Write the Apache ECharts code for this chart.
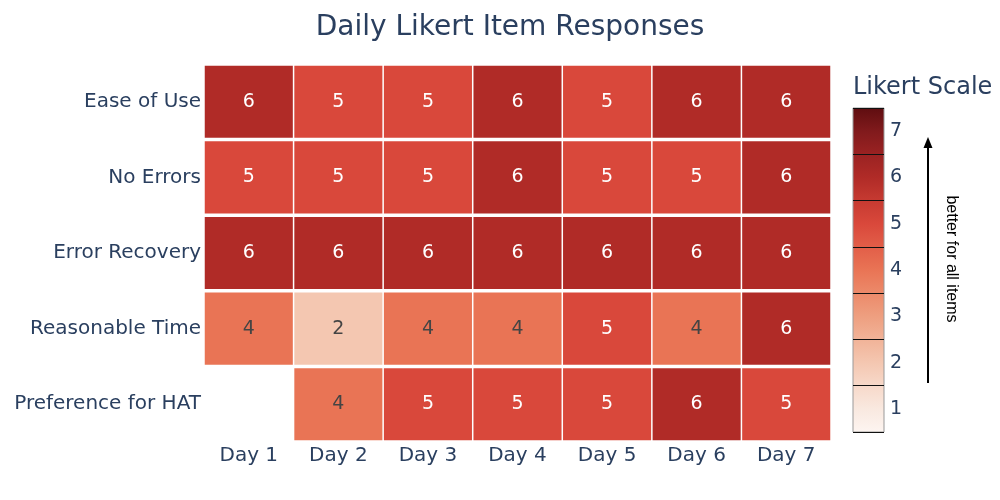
<!DOCTYPE html>
<html>
<head>
<meta charset="utf-8">
<script src="https://cdn.jsdelivr.net/npm/echarts@6/dist/echarts.min.js"></script>
<style>html,body{margin:0;padding:0;background:#fff;}#c{width:1000px;height:500px;}</style>
</head>
<body>
<div id="c"></div>
<script>
const days = ['Day 1', 'Day 2', 'Day 3', 'Day 4', 'Day 5', 'Day 6', 'Day 7'];
const items = ['Ease of Use', 'No Errors', 'Error Recovery', 'Reasonable Time', 'Preference for HAT'];
const easeOfUse      = [6, 5, 5, 6, 5, 6, 6];
const noErrors       = [5, 5, 5, 6, 5, 5, 6];
const errorRecovery  = [6, 6, 6, 6, 6, 6, 6];
const reasonableTime = [4, 2, 4, 4, 5, 4, 6];
const preferenceHAT  = [null, 4, 5, 5, 5, 6, 5];
const rows = [easeOfUse, noErrors, errorRecovery, reasonableTime, preferenceHAT];

const scaleMin = 0.5, scaleMax = 7.5;
const colorbarTicks = [1, 2, 3, 4, 5, 6, 7];
// colours at 0.5, 1.0, 1.5 ... 7.5
const scaleColors = ['#fdf5f1', '#f9e9e0', '#f7d9ca', '#f4c7b1', '#f1b398', '#ee9f80', '#ec8a6a',
  '#e97455', '#e25e48', '#d9483b', '#c63a31', '#b02b27', '#9a2222', '#801a1c', '#5e0d10'];

const cellData = [];
rows.forEach((r, yi) => r.forEach((v, xi) => { if (v !== null) cellData.push([xi, yi, v]); }));

const FONT = 'DejaVu Sans';
const TXT = '#2a3f5f';

const chart = echarts.init(document.getElementById('c'));
chart.setOption({
  animation: false,
  backgroundColor: '#fff',
  grid: [
    { left: 204, right: 169, top: 64, bottom: 58 },
    { left: 853, width: 31, top: 108, height: 324 }
  ],
  xAxis: [
    { type: 'category', data: days, gridIndex: 0, axisLine: { show: false }, axisTick: { show: false },
      axisLabel: { fontFamily: FONT, fontSize: 20, color: TXT, margin: 4 }, splitLine: { show: false } },
    { type: 'value', gridIndex: 1, min: 0, max: 1, show: false }
  ],
  yAxis: [
    { type: 'category', data: items, inverse: true, gridIndex: 0, axisLine: { show: false }, axisTick: { show: false },
      axisLabel: { fontFamily: FONT, fontSize: 20, color: TXT, margin: 3 }, splitLine: { show: false } },
    { type: 'value', gridIndex: 1, min: scaleMin, max: scaleMax, interval: 1, position: 'left', z: 5,
      axisLine: { show: false }, axisTick: { show: false }, axisLabel: { show: false },
      splitLine: { show: true, lineStyle: { color: '#111', width: 1 } } },
    { type: 'value', gridIndex: 1, min: scaleMin, max: scaleMax, position: 'right', z: 5,
      axisLine: { show: false }, axisTick: { show: false }, splitLine: { show: false },
      axisLabel: { customValues: colorbarTicks, fontFamily: FONT, fontSize: 19, color: TXT, margin: 6 } }
  ],
  visualMap: {
    show: false, type: 'continuous', seriesIndex: 0, dimension: 2,
    min: scaleMin, max: scaleMax, inRange: { color: scaleColors }
  },
  series: [
    {
      type: 'custom', xAxisIndex: 0, yAxisIndex: 0, data: cellData,
      renderItem: function (params, api) {
        const c = api.coord([api.value(0), api.value(1)]);
        const s = api.size([1, 1]);
        const v = api.value(2);
        const gx = 1.5, gy = 3.5;
        return {
          type: 'rect',
          shape: { x: c[0] - s[0] / 2 + gx / 2, y: c[1] - s[1] / 2 + gy / 2, width: s[0] - gx, height: s[1] - gy },
          style: { fill: api.visual('color') },
          textContent: { style: { text: String(v), fill: v >= 5 ? '#ffffff' : '#444444', fontFamily: FONT, fontSize: 19 } },
          textConfig: { position: 'inside' }
        };
      }
    },
    {
      type: 'custom', xAxisIndex: 1, yAxisIndex: 1, data: [[scaleMin, scaleMax]], z: 1,
      renderItem: function (params, api) {
        const p1 = api.coord([0, api.value(1)]);
        const p2 = api.coord([1, api.value(0)]);
        const stops = scaleColors.map((col, i) => ({ offset: 1 - i / (scaleColors.length - 1), color: col })).reverse();
        return {
          type: 'rect',
          shape: { x: p1[0], y: p1[1], width: p2[0] - p1[0], height: p2[1] - p1[1] },
          style: { fill: { type: 'linear', x: 0, y: 0, x2: 0, y2: 1, colorStops: stops }, stroke: '#999', lineWidth: 1 }
        };
      }
    }
  ],
  graphic: [
    { type: 'text', x: 510, y: 28, style: { text: 'Daily Likert Item Responses', fontFamily: FONT, fontSize: 28, fill: TXT, textAlign: 'center', textVerticalAlign: 'middle' } },
    { type: 'text', x: 853, y: 88, style: { text: 'Likert Scale', fontFamily: FONT, fontSize: 24, fill: TXT, textAlign: 'left', textVerticalAlign: 'middle' } },
    { type: 'line', shape: { x1: 928, y1: 383, x2: 928, y2: 146 }, style: { stroke: '#000', lineWidth: 2 } },
    { type: 'polygon', shape: { points: [[928, 137], [923.5, 148], [932.5, 148]] }, style: { fill: '#000' } },
    { type: 'text', x: 951, y: 259, rotation: -Math.PI / 2, style: { text: 'better for all items', fontFamily: 'Liberation Sans', fontSize: 16, fill: '#000', textAlign: 'center', textVerticalAlign: 'middle' } }
  ]
});
</script>
</body>
</html>
